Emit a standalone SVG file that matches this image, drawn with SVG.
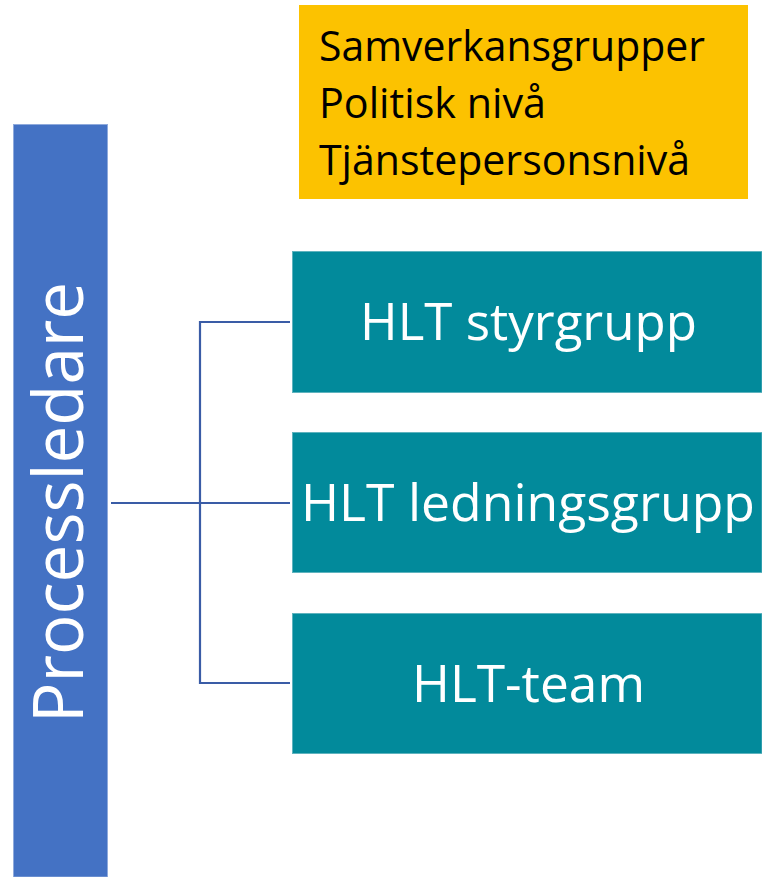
<svg xmlns="http://www.w3.org/2000/svg" width="762" height="877" viewBox="0 0 762 877">
<style>
.teal{fill:#028A9B;stroke:#5FB3BE;stroke-width:1}
.wt{fill:#FFFFFF;font-family:"Open Sans","Liberation Sans",sans-serif}
.lbl{font-size:52px}
.bt{fill:#000000;font-family:"Open Sans","Liberation Sans",sans-serif;font-size:42px}
.conn{fill:none;stroke:#3A5CA6;stroke-width:2.2}
</style>
<rect width="762" height="877" fill="#FFFFFF"/>
<g id="processledare">
<rect x="13.5" y="124.5" width="94" height="752.5" fill="#4472C4" stroke="#8FAADC" stroke-width="1"/>
<text class="wt" font-size="70" transform="translate(83,723) rotate(-90)" textLength="441" lengthAdjust="spacingAndGlyphs">Processledare</text>
</g>
<g id="samverkan">
<rect x="299" y="5" width="449" height="194" fill="#FCC200"/>
<text class="bt" x="319" y="61" textLength="386" lengthAdjust="spacingAndGlyphs">Samverkansgrupper</text>
<text class="bt" x="319" y="118" textLength="227" lengthAdjust="spacingAndGlyphs">Politisk nivå</text>
<text class="bt" x="319" y="175" textLength="371" lengthAdjust="spacingAndGlyphs">Tjänstepersonsnivå</text>
</g>
<g id="styrgrupp">
<rect class="teal" x="292.5" y="251.5" width="469.5" height="141"/>
<text class="wt lbl" x="360" y="340" textLength="337" lengthAdjust="spacingAndGlyphs">HLT styrgrupp</text>
</g>
<g id="ledningsgrupp">
<rect class="teal" x="292.5" y="432.5" width="469.5" height="140"/>
<text class="wt lbl" x="301" y="521" textLength="454" lengthAdjust="spacingAndGlyphs">HLT ledningsgrupp</text>
</g>
<g id="team">
<rect class="teal" x="292.5" y="613.5" width="469.5" height="140"/>
<text class="wt lbl" x="412" y="702" textLength="233" lengthAdjust="spacingAndGlyphs">HLT-team</text>
</g>
<g id="connectors">
<path class="conn" d="M111,503 H290"/>
<path class="conn" d="M290,322 H200 V683 H290"/>
</g>
</svg>
